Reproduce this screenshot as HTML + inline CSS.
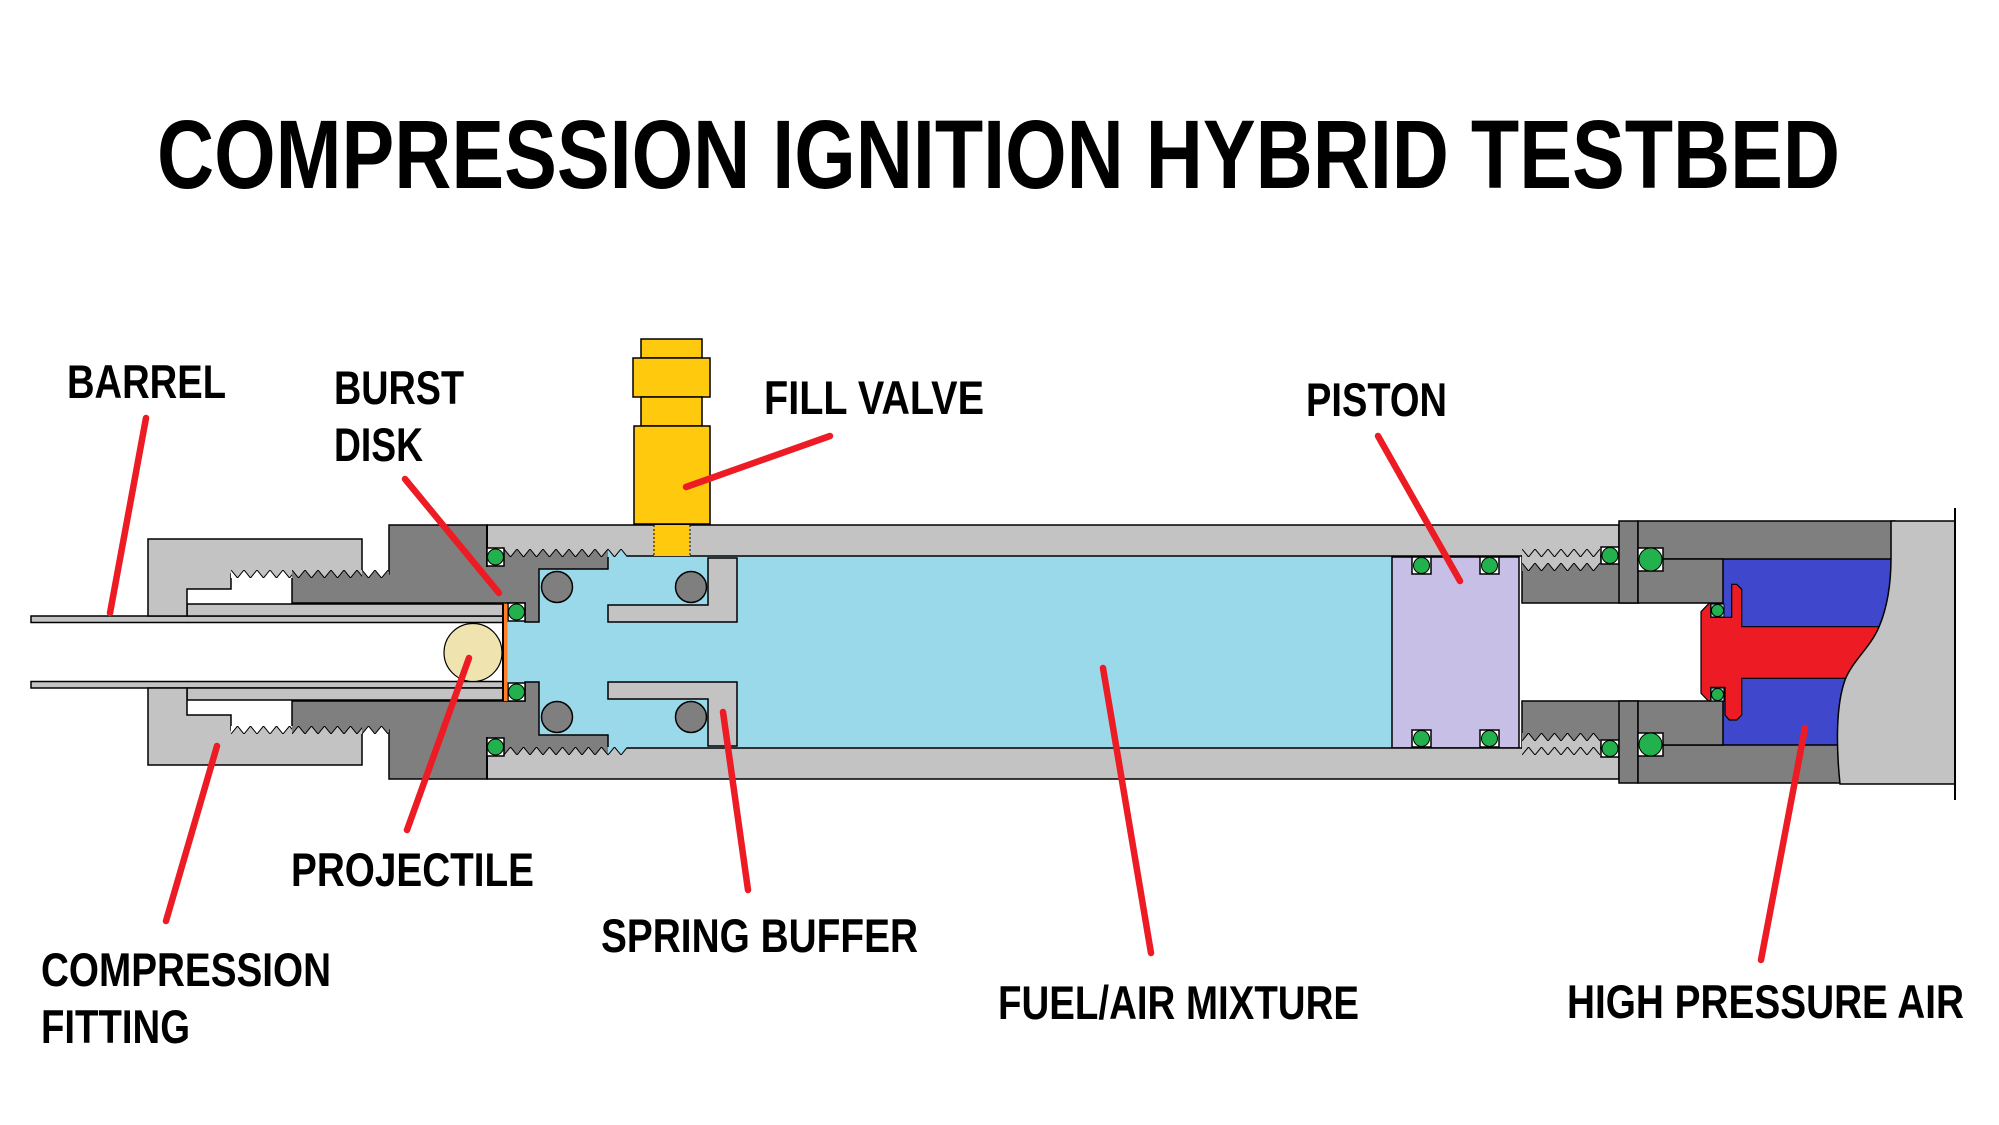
<!DOCTYPE html>
<html>
<head>
<meta charset="utf-8">
<style>
html,body{margin:0;padding:0;background:#fff;}
svg{display:block;}
text{font-family:"Liberation Sans",Arial,sans-serif;font-weight:bold;fill:#000;}
</style>
</head>
<body>
<svg width="1999" height="1125" viewBox="0 0 1999 1125" xmlns="http://www.w3.org/2000/svg">
<defs>
  <pattern id="p1" patternUnits="userSpaceOnUse" width="13" height="8">
    <rect width="13" height="8" fill="#ffffff"/>
    <path d="M0,0 L6.5,8 L13,0 Z" fill="#c3c3c3"/>
    <path d="M0,0 L6.5,8 L13,0" fill="none" stroke="#000" stroke-width="1"/>
  </pattern>
  <pattern id="p2" patternUnits="userSpaceOnUse" width="13" height="8">
    <rect width="13" height="8" fill="#7f7f7f"/>
    <path d="M0,0 L6.5,8 L13,0 Z" fill="#c3c3c3"/>
    <path d="M0,0 L6.5,8 L13,0" fill="none" stroke="#000" stroke-width="1"/>
  </pattern>
  <pattern id="p3" patternUnits="userSpaceOnUse" width="13" height="8">
    <rect width="13" height="8" fill="#7f7f7f"/>
    <path d="M0,0 L6.5,8 L13,0 Z" fill="#ffffff"/>
    <path d="M0,0 L6.5,8 L13,0" fill="none" stroke="#000" stroke-width="1"/>
  </pattern>
  <pattern id="p4" patternUnits="userSpaceOnUse" width="13" height="8">
    <rect width="13" height="8" fill="#99d9ea"/>
    <path d="M0,0 L6.5,8 L13,0 Z" fill="#c3c3c3"/>
    <path d="M0,0 L6.5,8 L13,0" fill="none" stroke="#000" stroke-width="1"/>
  </pattern>
  <pattern id="p5" patternUnits="userSpaceOnUse" width="13" height="8">
    <rect width="13" height="8" fill="#c3c3c3"/>
    <path d="M0,0 L6.5,8 L13,0" fill="none" stroke="#000" stroke-width="1"/>
  </pattern>

  <g id="half" stroke="#000" stroke-width="1.5">
    <!-- main tube wall -->
    <rect x="487" y="525" width="1132" height="31" fill="#c3c3c3"/>
    <!-- barrel wall -->
    <rect x="31" y="616" width="472" height="6.5" fill="#c3c3c3"/>
    <!-- sleeve -->
    <rect x="187" y="604" width="316" height="12" fill="#c3c3c3"/>
    <!-- compression nut -->
    <polygon points="148,539 362,539 362,574 231,574 231,589 187,589 187,616 148,616" fill="#c3c3c3"/>
    <!-- adapter body -->
    <polygon points="389,525 487,525 487,552 608,552 608,569 539,569 539,622 525,622 525,603 292,603 292,574 389,574" fill="#7f7f7f"/>
    <!-- nut threads -->
    <g transform="translate(231,570)" stroke="none"><rect width="61" height="8" fill="url(#p1)"/></g>
    <g transform="translate(292,570)" stroke="none"><rect width="70" height="8" fill="url(#p2)"/></g>
    <g transform="translate(362,570)" stroke="none"><rect width="27" height="8" fill="url(#p3)"/></g>
    <!-- adapter/tube threads -->
    <g transform="translate(504,549)" stroke="none"><rect width="104" height="8" fill="url(#p2)"/></g>
    <g transform="translate(608,549)" stroke="none"><rect width="19" height="8" fill="url(#p4)"/></g>
    <line x1="487" y1="525" x2="487" y2="567" stroke="#000" stroke-width="2"/>
    <!-- o-rings at adapter -->
    <rect x="487" y="548" width="17" height="18" fill="#fff"/>
    <circle cx="495.5" cy="557" r="8" fill="#22b14c" stroke-width="1"/>
    <rect x="508" y="603" width="17" height="18" fill="#fff"/>
    <circle cx="516.5" cy="612" r="8" fill="#22b14c" stroke-width="1"/>
    <!-- spring buffer -->
    <polygon points="708,558 737,558 737,622 608,622 608,605 708,605" fill="#c3c3c3"/>
    <circle cx="557" cy="587" r="15.5" fill="#7f7f7f"/>
    <circle cx="691" cy="587" r="15.5" fill="#7f7f7f"/>
    <!-- piston o-rings -->
    <rect x="1412" y="557" width="19" height="17" fill="#fff"/>
    <circle cx="1421.5" cy="565.5" r="8" fill="#22b14c" stroke-width="1"/>
    <rect x="1480" y="557" width="19" height="17" fill="#fff"/>
    <circle cx="1489.5" cy="565.5" r="8" fill="#22b14c" stroke-width="1"/>
    <!-- right cap -->
    <rect x="1522" y="556" width="116" height="47" fill="#7f7f7f"/>
    <rect x="1522" y="549" width="78" height="15" fill="#c3c3c3" stroke="none"/>
    <g transform="translate(1522,549)" stroke="none"><rect width="78" height="8" fill="url(#p5)"/></g>
    <g transform="translate(1522,563)" stroke="none"><rect width="78" height="8" fill="url(#p2)"/></g>
    <rect x="1601" y="547" width="18" height="17" fill="#fff"/>
    <circle cx="1610" cy="555.5" r="8" fill="#22b14c" stroke-width="1"/>
    <rect x="1619" y="521" width="19" height="82" fill="#7f7f7f"/>
    <rect x="1638" y="521" width="257" height="38" fill="#7f7f7f"/>
    <rect x="1638" y="559" width="85" height="44" fill="#7f7f7f"/>
    <rect x="1638" y="548" width="25" height="23" fill="#fff"/>
    <circle cx="1650.5" cy="559.5" r="11.5" fill="#22b14c" stroke-width="1"/>
  </g>
</defs>

<!-- Title -->
<text x="157" y="188" font-size="97" textLength="1683" lengthAdjust="spacingAndGlyphs">COMPRESSION IGNITION HYBRID TESTBED</text>

<!-- chamber fill -->
<rect x="505" y="556" width="887" height="192" fill="#99d9ea"/>
<!-- piston -->
<rect x="1392" y="557" width="127" height="191" fill="#c8bfe7" stroke="#000" stroke-width="1.5"/>

<!-- high pressure air region -->
<rect x="1723" y="558" width="172" height="188" fill="#3f48cc"/>
<polygon points="1701,611.7 1709,603.3 1710.7,603.3 1710.7,617.3 1731.7,617.3 1731.7,584.3 1736.7,584.3 1741.7,589.3 1741.7,626.7 1885,626.7 1885,678.3 1741.7,678.3 1741.7,715 1736.7,720 1729.3,720 1725,715 1725,687.3 1710.7,687.3 1710.7,701.7 1709,701.7 1701,693.3" fill="#ed1c24" stroke="#000" stroke-width="1.2"/>
<line x1="1741.7" y1="626.7" x2="1741.7" y2="626.7"/>

<!-- halves -->
<use href="#half"/>
<use href="#half" transform="matrix(1 0 0 -1 0 1304)"/>

<!-- poppet o-rings -->
<rect x="1711" y="604" width="13" height="13" fill="#99d9ea" stroke="#000" stroke-width="1"/>
<circle cx="1717.5" cy="610.5" r="6" fill="#22b14c" stroke="#000" stroke-width="1"/>
<rect x="1711" y="688" width="13" height="13" fill="#99d9ea" stroke="#000" stroke-width="1"/>
<circle cx="1717.5" cy="694.5" r="6" fill="#22b14c" stroke="#000" stroke-width="1"/>

<!-- end cap -->
<path d="M1891,521 L1955,521 L1955,784 L1840,784 C1836,745 1836,705 1845,680 C1853,660 1870,648 1879,627 C1887,608 1891,585 1891,558 Z" fill="#c3c3c3" stroke="#000" stroke-width="1.5"/>
<line x1="1955" y1="508" x2="1955" y2="800" stroke="#000" stroke-width="2"/>

<!-- burst disk -->
<line x1="503" y1="604" x2="503" y2="701" stroke="#000" stroke-width="2"/>
<rect x="504" y="604" width="3.5" height="97" fill="#ff7f27"/>

<!-- projectile -->
<circle cx="473" cy="652.5" r="29" fill="#efe4b0" stroke="#000" stroke-width="1.2"/>

<!-- fill valve -->
<g fill="#ffc90e" stroke="#000" stroke-width="1.5">
  <rect x="654" y="525" width="36" height="31" stroke="none"/>
  <line x1="654" y1="525" x2="654" y2="556" stroke-dasharray="2 2" stroke-width="1"/>
  <line x1="690" y1="525" x2="690" y2="556" stroke-dasharray="2 2" stroke-width="1"/>
  <rect x="641" y="339" width="61" height="19"/>
  <rect x="633" y="358" width="77" height="39"/>
  <rect x="641" y="397" width="61" height="29"/>
  <rect x="634" y="426" width="76" height="98"/>
</g>

<!-- leader lines -->
<g stroke="#ed1c24" stroke-width="6.5" stroke-linecap="round" fill="none">
  <line x1="146" y1="418" x2="110" y2="613"/>
  <line x1="405" y1="479" x2="499" y2="593"/>
  <line x1="830" y1="436" x2="686" y2="487"/>
  <line x1="1378" y1="436" x2="1460" y2="581"/>
  <line x1="217" y1="746" x2="166" y2="921"/>
  <line x1="469" y1="658" x2="407" y2="830"/>
  <line x1="723" y1="712" x2="748" y2="890"/>
  <line x1="1103" y1="668" x2="1151" y2="953"/>
  <line x1="1805" y1="728" x2="1761" y2="960"/>
</g>

<!-- labels -->
<g font-size="47">
  <text x="67" y="398" textLength="159" lengthAdjust="spacingAndGlyphs">BARREL</text>
  <text x="334" y="404" textLength="130" lengthAdjust="spacingAndGlyphs">BURST</text>
  <text x="334" y="461" textLength="89" lengthAdjust="spacingAndGlyphs">DISK</text>
  <text x="764" y="414" textLength="220" lengthAdjust="spacingAndGlyphs">FILL VALVE</text>
  <text x="1306" y="416" textLength="141" lengthAdjust="spacingAndGlyphs">PISTON</text>
  <text x="291" y="886" textLength="243" lengthAdjust="spacingAndGlyphs">PROJECTILE</text>
  <text x="601" y="952" textLength="317" lengthAdjust="spacingAndGlyphs">SPRING BUFFER</text>
  <text x="41" y="986" textLength="290" lengthAdjust="spacingAndGlyphs">COMPRESSION</text>
  <text x="41" y="1043" textLength="149" lengthAdjust="spacingAndGlyphs">FITTING</text>
  <text x="998" y="1019" textLength="361" lengthAdjust="spacingAndGlyphs">FUEL/AIR MIXTURE</text>
  <text x="1567" y="1018" textLength="397" lengthAdjust="spacingAndGlyphs">HIGH PRESSURE AIR</text>
</g>
</svg>
</body>
</html>
